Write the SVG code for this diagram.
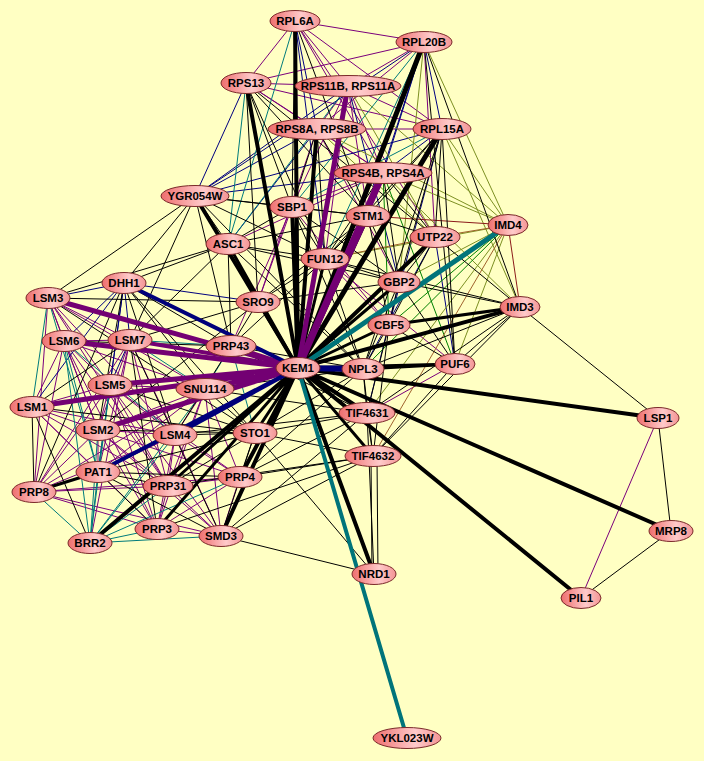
<svg xmlns="http://www.w3.org/2000/svg" width="704" height="761" viewBox="0 0 704 761">
<defs>
<linearGradient id="nodeFill" x1="0" y1="0" x2="1" y2="0">
<stop offset="0" stop-color="#EE6E6E"/>
<stop offset="0.62" stop-color="#FFCACA"/>
<stop offset="1" stop-color="#F39494"/>
</linearGradient>
<style>
.e path{fill:none;stroke-linecap:round}
.k{stroke:#000;stroke-width:1}
.k3{stroke:#000;stroke-width:3}
.k4{stroke:#000;stroke-width:4}
.k5{stroke:#000;stroke-width:5}
.p{stroke:#7B007B;stroke-width:1}
.p4{stroke:#730073;stroke-width:4}
.p5{stroke:#730073;stroke-width:5}
.p7{stroke:#730073;stroke-width:7}
.n{stroke:#00007F;stroke-width:1}
.n4{stroke:#00007A;stroke-width:4}
.n6{stroke:#00007A;stroke-width:6}
.t{stroke:#007B7B;stroke-width:1}
.t4{stroke:#00747A;stroke-width:4}
.t5{stroke:#00747A;stroke-width:5}
.o{stroke:#7C8F22;stroke-width:1}
.g{stroke:#008000;stroke-width:1}
.r{stroke:#8B1A1A;stroke-width:1}
.br{stroke:#A0622D;stroke-width:1}
.node ellipse{fill:url(#nodeFill);stroke:#7A2A2A;stroke-width:1}
.node text{font-family:"Liberation Sans",Arial,sans-serif;font-weight:bold;font-size:11.5px;fill:#000;text-anchor:middle}
</style>
</defs>
<rect x="0" y="0" width="704" height="761" fill="#FFFFC3"/>
<g id="connectors" class="e">
<!-- purple thin -->
<path class="p" d="M295 21L246 83M295 21L424 42M295 21L348 86M295 21L442 129M295 21L383 173M295 21L435 237M424 42L246 83M424 42L348 86M424 42L317 129M424 42L435 237M246 83L348 86M246 83L317 129M246 83L442 129M246 83L383 173M348 86L317 129M348 86L442 129M348 86L383 173M348 86L292 207M348 86L368 216M348 86L325 259M317 129L442 129M317 129L383 173M317 129L258 302M317 129L399 282M383 173L292 207M383 173L228 244M292 207L258 302M292 207L231 346M292 207L389 325M389 325L325 259M455 364L367 413M455 364L325 259M658 418L581 598"/>
<path class="p" d="M48 298L64 341M48 298L130 340M48 298L110 385M48 298L98 430M48 298L175 435M48 298L205 389M48 298L34 492M48 298L168 486M64 341L130 340M64 341L110 385M64 341L32 407M64 341L98 430M64 341L34 492M64 341L205 389M64 341L168 486M64 341L157 529M130 340L98 430M130 340L175 435M130 340L98 472M130 340L168 486M130 340L90 543M130 340L34 492M110 385L32 407M110 385L98 430M110 385L175 435M110 385L205 389M110 385L168 486M110 385L34 492M110 385L157 529M110 385L221 536M110 385L240 477M32 407L98 430M32 407L175 435M32 407L98 472M32 407L168 486M32 407L157 529M98 430L175 435M98 430L98 472M98 430L34 492M98 430L205 389M98 430L168 486M98 430L157 529M98 430L221 536M98 430L240 477M175 435L98 472M175 435L34 492M175 435L205 389M175 435L168 486M175 435L157 529M175 435L221 536M175 435L240 477M98 472L205 389M34 492L168 486M34 492L157 529M34 492L221 536M34 492L205 389M34 492L240 477M168 486L157 529M168 486L221 536M168 486L240 477M168 486L205 389M157 529L221 536M157 529L240 477M157 529L205 389M221 536L240 477M221 536L205 389M240 477L205 389M240 477L298 368M221 536L298 368M255 433L298 368"/>
<!-- navy thin -->
<path class="n" d="M295 21L317 129M295 21L325 259M424 42L442 129M424 42L383 173M424 42L195 196M424 42L368 216M246 83L195 196M348 86L195 196M348 86L399 282M317 129L195 196M317 129L228 244M442 129L383 173M442 129L195 196M442 129L389 325M383 173L195 196M435 237L455 364M435 237L363 369M399 282L367 413M124 283L48 298M124 283L64 341M124 283L130 340M124 283L110 385M124 283L32 407M124 283L98 472M258 302L124 283M130 340L110 385"/>
<!-- teal thin -->
<path class="t" d="M295 21L228 244M424 42L292 207M424 42L325 259M246 83L228 244M348 86L228 244M442 129L292 207M48 298L32 407M48 298L98 472M64 341L175 435M64 341L98 472M64 341L90 543M130 340L231 346M130 340L205 389M110 385L98 472M110 385L90 543M98 430L90 543M175 435L90 543M98 472L90 543M34 492L90 543M90 543L157 529M90 543L221 536M90 543L168 486M90 543L205 389M90 543L240 477M205 389L231 346M231 346L255 433M231 346L298 368"/>
<!-- olive / green / brown / dark red -->
<path class="o" d="M424 42L508 225M424 42L399 282M348 86L435 237M348 86L508 225M317 129L435 237M317 129L508 225M442 129L508 225M442 129L520 307M383 173L508 225M383 173L520 307M508 225L399 282M508 225L455 364M508 225L367 413M508 225L325 259"/>
<path class="g" d="M383 173L389 325M383 173L455 364M508 225L389 325M508 225L363 369"/>
<path class="r" d="M368 216L508 225M508 225L520 307"/>
<path class="br" d="M435 237L508 225M435 237L325 259M508 225L373 456"/>
<!-- black thin -->
<path class="k" d="M295 21L292 207M295 21L368 216M424 42L520 307M424 42L455 364M246 83L292 207M246 83L368 216M246 83L325 259M246 83L258 302M246 83L435 237M317 129L292 207M317 129L368 216M317 129L325 259M442 129L368 216M442 129L435 237M442 129L399 282M442 129L455 364M442 129L363 369M442 129L325 259M383 173L368 216M383 173L435 237M383 173L325 259M383 173L399 282M195 196L292 207M195 196L228 244M195 196L325 259M195 196L258 302M195 196L124 283M195 196L48 298M195 196L130 340M195 196L231 346M195 196L368 216M195 196L363 369M292 207L368 216M292 207L228 244M292 207L325 259M292 207L399 282M292 207L363 369M368 216L435 237M368 216L325 259M368 216L399 282M368 216L228 244M368 216L389 325M368 216L258 302M435 237L520 307M435 237L399 282M435 237L389 325M520 307L399 282M520 307L455 364M520 307L363 369M520 307L367 413M520 307L373 456M520 307L658 418M520 307L325 259M399 282L389 325M399 282L455 364M399 282L363 369M399 282L325 259M399 282L258 302M399 282L228 244M389 325L455 364M389 325L363 369M389 325L367 413M389 325L373 456M455 364L373 456M363 369L367 413M363 369L373 456M367 413L373 456M367 413L374 574M371 456L372 574M377 456L378 574M658 418L671 531M671 531L581 598"/>
<path class="k" d="M325 259L228 244M325 259L258 302M325 259L231 346M325 259L363 369M228 244L258 302M228 244L124 283M228 244L48 298M228 244L231 346M228 244L130 340M228 244L363 369M258 302L231 346M258 302L48 298M258 302L130 340M124 283L98 430M124 283L175 435M124 283L231 346M124 283L205 389M124 283L255 433M124 283L34 492M48 298L255 433M64 341L231 346M130 340L32 407M130 340L157 529M130 340L221 536M110 385L255 433M32 407L34 492M32 407L90 543M32 407L255 433M98 430L255 433M175 435L255 433M98 472L168 486M98 472L157 529M98 472L221 536M98 472L240 477M98 472L255 433M168 486L255 433M221 536L255 433M240 477L255 433M205 389L255 433M255 433L367 413M255 433L373 456M240 477L367 413M240 477L373 456M221 536L367 413M221 536L373 456M168 486L373 456M175 435L367 413M205 389L367 413M231 346L367 413M157 529L373 456M221 536L374 574M255 433L374 574M231 346L363 369M205 389L363 369M240 477L363 369M255 433L363 369M175 435L231 346M98 430L258 302"/>
<!-- medium black -->
<path class="k3" d="M520 307L389 325M455 364L363 369M98 472L34 492M298 368L258 302M298 368L228 244M298 368L325 259M298 368L399 282M298 368L389 325M298 368L455 364M298 368L168 486M298 368L157 529M298 368L255 433M298 368L373 456"/>
<!-- thick black from KEM1 -->
<path class="k4" d="M298 368L295 21M298 368L246 83M298 368L317 129M298 368L195 196M298 368L292 207M298 368L368 216M298 368L435 237M298 368L520 307M298 368L367 413M298 368L374 574M298 368L240 477M298 368L221 536M298 368L90 543M298 368L658 418M298 368L671 531M298 368L581 598"/>
<path class="k5" d="M298 368L424 42M298 368L442 129"/>
<!-- thick purple -->
<path class="p5" d="M298 368L348 86M298 368L48 298M298 368L64 341M298 368L110 385M298 368L32 407M298 368L98 430M298 368L205 389"/>
<path class="p4" d="M298 368L130 340M298 368L231 346M298 368L368 216"/>
<path class="p7" d="M298 368L383 173"/>
<!-- thick navy -->
<path class="n4" d="M298 368L124 283M298 368L175 435M298 368L98 472"/>
<path class="n6" d="M298 368L363 369"/>
<!-- thick teal -->
<path class="t5" d="M298 368L508 225"/>
<path class="t4" d="M298 368L407 738"/>
</g>
<g id="nodes">
<g id="n-RPL6A" class="node"><ellipse cx="295" cy="21" rx="25" ry="10.5"/><text x="295" y="25">RPL6A</text></g>
<g id="n-RPL20B" class="node"><ellipse cx="424" cy="42" rx="28" ry="10.5"/><text x="424" y="46">RPL20B</text></g>
<g id="n-RPS13" class="node"><ellipse cx="246" cy="83" rx="25" ry="10.5"/><text x="246" y="87">RPS13</text></g>
<g id="n-RPS11" class="node"><ellipse cx="348" cy="86" rx="53" ry="10.5"/><text x="348" y="90">RPS11B, RPS11A</text></g>
<g id="n-RPS8" class="node"><ellipse cx="317" cy="129" rx="49" ry="10.5"/><text x="317" y="133">RPS8A, RPS8B</text></g>
<g id="n-RPL15A" class="node"><ellipse cx="442" cy="129" rx="29" ry="10.5"/><text x="442" y="133">RPL15A</text></g>
<g id="n-RPS4" class="node"><ellipse cx="383" cy="173" rx="49" ry="10.5"/><text x="383" y="177">RPS4B, RPS4A</text></g>
<g id="n-YGR054W" class="node"><ellipse cx="195" cy="196" rx="34" ry="10.5"/><text x="195" y="200">YGR054W</text></g>
<g id="n-SBP1" class="node"><ellipse cx="292" cy="207" rx="22" ry="10.5"/><text x="292" y="211">SBP1</text></g>
<g id="n-STM1" class="node"><ellipse cx="368" cy="216" rx="22" ry="10.5"/><text x="368" y="220">STM1</text></g>
<g id="n-UTP22" class="node"><ellipse cx="435" cy="237" rx="25" ry="10.5"/><text x="435" y="241">UTP22</text></g>
<g id="n-IMD4" class="node"><ellipse cx="508" cy="225" rx="20" ry="10.5"/><text x="508" y="229">IMD4</text></g>
<g id="n-ASC1" class="node"><ellipse cx="228" cy="244" rx="22" ry="10.5"/><text x="228" y="248">ASC1</text></g>
<g id="n-FUN12" class="node"><ellipse cx="325" cy="259" rx="24" ry="10.5"/><text x="325" y="263">FUN12</text></g>
<g id="n-DHH1" class="node"><ellipse cx="124" cy="283" rx="22" ry="10.5"/><text x="124" y="287">DHH1</text></g>
<g id="n-LSM3" class="node"><ellipse cx="48" cy="298" rx="22" ry="10.5"/><text x="48" y="302">LSM3</text></g>
<g id="n-SRO9" class="node"><ellipse cx="258" cy="302" rx="22" ry="10.5"/><text x="258" y="306">SRO9</text></g>
<g id="n-GBP2" class="node"><ellipse cx="399" cy="282" rx="21" ry="10.5"/><text x="399" y="286">GBP2</text></g>
<g id="n-IMD3" class="node"><ellipse cx="520" cy="307" rx="20" ry="10.5"/><text x="520" y="311">IMD3</text></g>
<g id="n-CBF5" class="node"><ellipse cx="389" cy="325" rx="21" ry="10.5"/><text x="389" y="329">CBF5</text></g>
<g id="n-LSM6" class="node"><ellipse cx="64" cy="341" rx="22" ry="10.5"/><text x="64" y="345">LSM6</text></g>
<g id="n-LSM7" class="node"><ellipse cx="130" cy="340" rx="22" ry="10.5"/><text x="130" y="344">LSM7</text></g>
<g id="n-PRP43" class="node"><ellipse cx="231" cy="346" rx="25" ry="10.5"/><text x="231" y="350">PRP43</text></g>
<g id="n-KEM1" class="node"><ellipse cx="298" cy="368" rx="22" ry="10.5"/><text x="298" y="372">KEM1</text></g>
<g id="n-NPL3" class="node"><ellipse cx="363" cy="369" rx="21" ry="10.5"/><text x="363" y="373">NPL3</text></g>
<g id="n-PUF6" class="node"><ellipse cx="455" cy="364" rx="20" ry="10.5"/><text x="455" y="368">PUF6</text></g>
<g id="n-LSM5" class="node"><ellipse cx="110" cy="385" rx="22" ry="10.5"/><text x="110" y="389">LSM5</text></g>
<g id="n-SNU114" class="node"><ellipse cx="205" cy="389" rx="29" ry="10.5"/><text x="205" y="393">SNU114</text></g>
<g id="n-LSM1" class="node"><ellipse cx="32" cy="407" rx="22" ry="10.5"/><text x="32" y="411">LSM1</text></g>
<g id="n-TIF4631" class="node"><ellipse cx="367" cy="413" rx="28" ry="10.5"/><text x="367" y="417">TIF4631</text></g>
<g id="n-LSP1" class="node"><ellipse cx="658" cy="418" rx="21" ry="10.5"/><text x="658" y="422">LSP1</text></g>
<g id="n-LSM2" class="node"><ellipse cx="98" cy="430" rx="22" ry="10.5"/><text x="98" y="434">LSM2</text></g>
<g id="n-LSM4" class="node"><ellipse cx="175" cy="435" rx="22" ry="10.5"/><text x="175" y="439">LSM4</text></g>
<g id="n-STO1" class="node"><ellipse cx="255" cy="433" rx="22" ry="10.5"/><text x="255" y="437">STO1</text></g>
<g id="n-TIF4632" class="node"><ellipse cx="373" cy="456" rx="28" ry="10.5"/><text x="373" y="460">TIF4632</text></g>
<g id="n-PAT1" class="node"><ellipse cx="98" cy="472" rx="22" ry="10.5"/><text x="98" y="476">PAT1</text></g>
<g id="n-PRP4" class="node"><ellipse cx="240" cy="477" rx="22" ry="10.5"/><text x="240" y="481">PRP4</text></g>
<g id="n-PRP8" class="node"><ellipse cx="34" cy="492" rx="22" ry="10.5"/><text x="34" y="496">PRP8</text></g>
<g id="n-PRP31" class="node"><ellipse cx="168" cy="486" rx="25" ry="10.5"/><text x="168" y="490">PRP31</text></g>
<g id="n-PRP3" class="node"><ellipse cx="157" cy="529" rx="22" ry="10.5"/><text x="157" y="533">PRP3</text></g>
<g id="n-SMD3" class="node"><ellipse cx="221" cy="536" rx="22" ry="10.5"/><text x="221" y="540">SMD3</text></g>
<g id="n-BRR2" class="node"><ellipse cx="90" cy="543" rx="22" ry="10.5"/><text x="90" y="547">BRR2</text></g>
<g id="n-MRP8" class="node"><ellipse cx="671" cy="531" rx="22" ry="10.5"/><text x="671" y="535">MRP8</text></g>
<g id="n-NRD1" class="node"><ellipse cx="374" cy="574" rx="22" ry="10.5"/><text x="374" y="578">NRD1</text></g>
<g id="n-PIL1" class="node"><ellipse cx="581" cy="598" rx="20" ry="10.5"/><text x="581" y="602">PIL1</text></g>
<g id="n-YKL023W" class="node"><ellipse cx="407" cy="738" rx="34" ry="10.5"/><text x="407" y="742">YKL023W</text></g>
</g>
</svg>
